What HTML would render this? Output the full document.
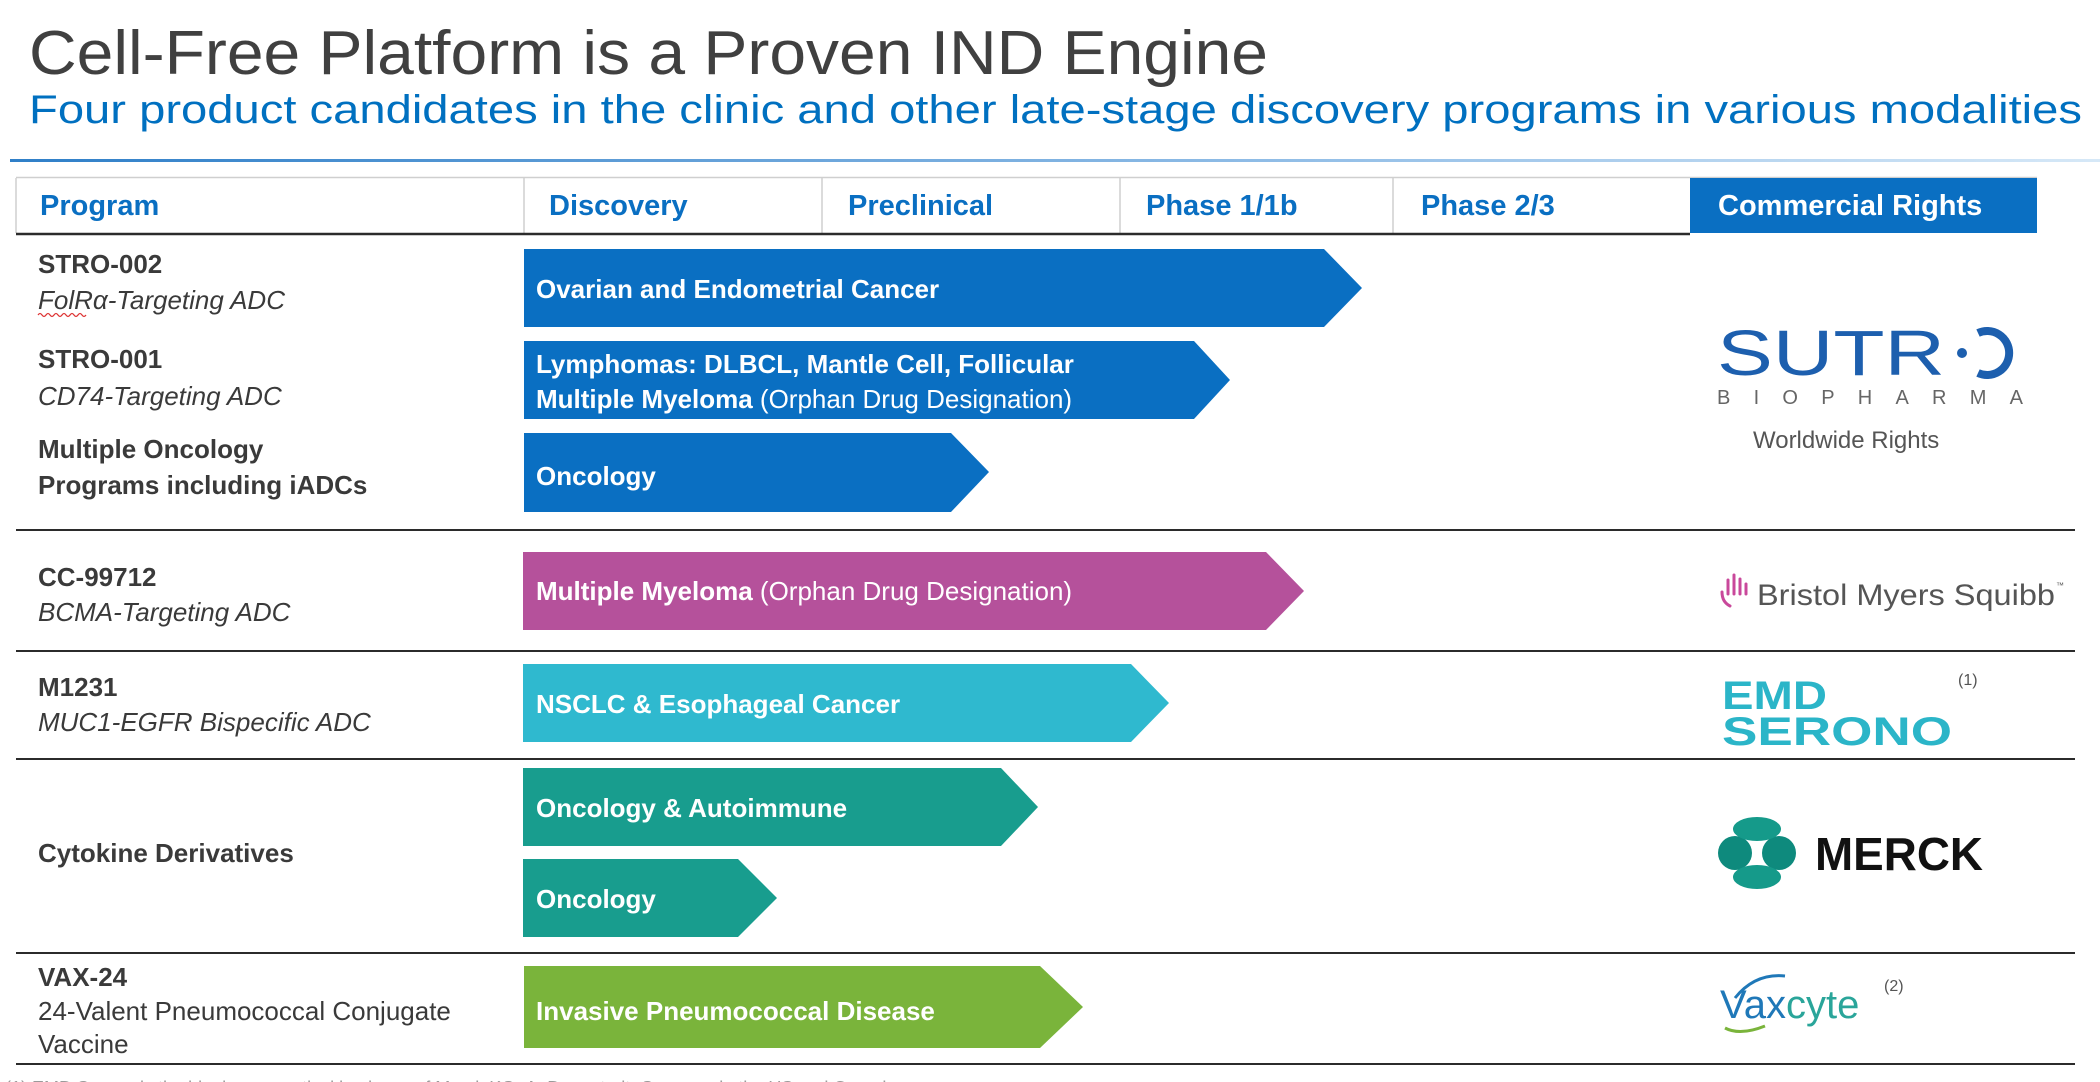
<!DOCTYPE html>
<html><head><meta charset="utf-8"><style>
html,body{margin:0;padding:0;background:#fff;}
svg{display:block;font-family:"Liberation Sans",Arial,sans-serif;}
</style></head><body>
<svg width="2100" height="1082" viewBox="0 0 2100 1082" xmlns="http://www.w3.org/2000/svg">
<defs>
<linearGradient id="bl" x1="0" x2="1" y1="0" y2="0">
<stop offset="0" stop-color="#2f7fc8"/><stop offset="0.6" stop-color="#8fbce6"/><stop offset="1" stop-color="#d6e8f7"/>
</linearGradient>
</defs>
<text x="29" y="74" font-size="62" fill="#404040" textLength="1239" lengthAdjust="spacingAndGlyphs">Cell-Free Platform is a Proven IND Engine</text>
<text x="29" y="123" font-size="40" fill="#0070c0" textLength="2053" lengthAdjust="spacingAndGlyphs">Four product candidates in the clinic and other late-stage discovery programs in various modalities</text>
<rect x="10" y="159" width="2090" height="3" fill="url(#bl)"/>

<!-- header -->
<line x1="16" y1="177.5" x2="2037" y2="177.5" stroke="#cfcfcf" stroke-width="1.5"/>
<rect x="1690" y="178" width="347" height="55" fill="#0a6fc2"/>
<line x1="16" y1="178" x2="16" y2="233" stroke="#cfcfcf" stroke-width="1.5"/>
<line x1="524" y1="178" x2="524" y2="233" stroke="#cfcfcf" stroke-width="1.5"/>
<line x1="822" y1="178" x2="822" y2="233" stroke="#cfcfcf" stroke-width="1.5"/>
<line x1="1120" y1="178" x2="1120" y2="233" stroke="#cfcfcf" stroke-width="1.5"/>
<line x1="1393" y1="178" x2="1393" y2="233" stroke="#cfcfcf" stroke-width="1.5"/>
<line x1="16" y1="234" x2="1690" y2="234" stroke="#2b2b2b" stroke-width="2.5"/>
<g font-size="29" font-weight="bold" fill="#0a6fc2">
<text x="40" y="215">Program</text>
<text x="549" y="215">Discovery</text>
<text x="848" y="215">Preclinical</text>
<text x="1146" y="215">Phase 1/1b</text>
<text x="1421" y="215">Phase 2/3</text>
<text x="1718" y="215" fill="#fff">Commercial Rights</text>
</g>

<!-- row separators -->
<g stroke="#2b2b2b" stroke-width="2">
<line x1="16" y1="530" x2="2075" y2="530"/>
<line x1="16" y1="651" x2="2075" y2="651"/>
<line x1="16" y1="759" x2="2075" y2="759"/>
<line x1="16" y1="953" x2="2075" y2="953"/>
<line x1="16" y1="1064" x2="2075" y2="1064"/>
</g>

<!-- left labels -->
<g font-size="26" fill="#3a3a3a">
<text x="38" y="273" font-weight="bold">STRO-002</text>
<text x="38" y="309" font-style="italic">FolRα-Targeting ADC</text>
<path d="M38 315 q2 -3 4 0 t4 0 t4 0 t4 0 t4 0 t4 0 t4 0 t4 0 t4 0 t4 0 t4 0 t4 0" stroke="#d33" stroke-width="1.2" fill="none"/>
<text x="38" y="368" font-weight="bold">STRO-001</text>
<text x="38" y="405" font-style="italic">CD74-Targeting ADC</text>
<text x="38" y="458" font-weight="bold">Multiple Oncology</text>
<text x="38" y="494" font-weight="bold">Programs including iADCs</text>
<text x="38" y="586" font-weight="bold">CC-99712</text>
<text x="38" y="621" font-style="italic">BCMA-Targeting ADC</text>
<text x="38" y="696" font-weight="bold">M1231</text>
<text x="38" y="731" font-style="italic">MUC1-EGFR Bispecific ADC</text>
<text x="38" y="862" font-weight="bold">Cytokine Derivatives</text>
<text x="38" y="986" font-weight="bold">VAX-24</text>
<text x="38" y="1020">24-Valent Pneumococcal Conjugate</text>
<text x="38" y="1053">Vaccine</text>
</g>

<!-- bars -->
<polygon points="524,249 1324,249 1362,288 1324,327 524,327" fill="#0a6fc2"/>
<polygon points="524,341 1194,341 1230,380 1194,419 524,419" fill="#0a6fc2"/>
<polygon points="524,433 951,433 989,472 951,512 524,512" fill="#0a6fc2"/>
<polygon points="523,552 1266,552 1304,591 1266,630 523,630" fill="#b5519b"/>
<polygon points="523,664 1131,664 1169,703 1131,742 523,742" fill="#2fb9cf"/>
<polygon points="523,768 1001,768 1038,807 1001,846 523,846" fill="#189d8e"/>
<polygon points="523,859 738,859 777,898 738,937 523,937" fill="#189d8e"/>
<polygon points="524,966 1040,966 1083,1007 1040,1048 524,1048" fill="#7ab43b"/>
<g font-size="26" fill="#fff" font-weight="bold">
<text x="536" y="298">Ovarian and Endometrial Cancer</text>
<text x="536" y="373">Lymphomas: DLBCL, Mantle Cell, Follicular</text>
<text x="536" y="408">Multiple Myeloma <tspan font-weight="normal">(Orphan Drug Designation)</tspan></text>
<text x="536" y="485">Oncology</text>
<text x="536" y="600">Multiple Myeloma <tspan font-weight="normal">(Orphan Drug Designation)</tspan></text>
<text x="536" y="713">NSCLC &amp; Esophageal Cancer</text>
<text x="536" y="817">Oncology &amp; Autoimmune</text>
<text x="536" y="908">Oncology</text>
<text x="536" y="1020">Invasive Pneumococcal Disease</text>
</g>

<!-- Sutro -->
<text x="1717" y="375" font-size="64" fill="#1d5fae" textLength="228" lengthAdjust="spacingAndGlyphs">SUTR</text>
<circle cx="1962" cy="353" r="5" fill="#1d5fae"/>
<path d="M1978 333 A22 22 0 1 1 1978 373" stroke="#1d5fae" stroke-width="8" fill="none"/>
<text x="1717" y="404" font-size="20" fill="#666" textLength="306" lengthAdjust="spacing">BIOPHARMA</text>
<text x="1753" y="448" font-size="24" fill="#555">Worldwide Rights</text>

<!-- BMS -->
<g stroke="#c9489b" stroke-width="3" fill="none" stroke-linecap="round">
<path d="M1722 592 q0 10 8 14"/>
<line x1="1728" y1="580" x2="1728" y2="594"/>
<line x1="1734" y1="575" x2="1734" y2="594"/>
<line x1="1740" y1="579" x2="1740" y2="594"/>
<line x1="1746" y1="584" x2="1746" y2="594"/>
</g>
<text x="1757" y="605" font-size="30" fill="#555" textLength="298" lengthAdjust="spacingAndGlyphs">Bristol Myers Squibb</text>
<text x="2056" y="588" font-size="8" fill="#555">™</text>

<!-- EMD Serono -->
<text x="1722" y="709" font-size="40" font-weight="bold" fill="#2bb5c8" textLength="105" lengthAdjust="spacingAndGlyphs">EMD</text>
<text x="1722" y="745" font-size="40" font-weight="bold" fill="#2bb5c8" textLength="230" lengthAdjust="spacingAndGlyphs">SERONO</text>
<text x="1958" y="685" font-size="16" fill="#555">(1)</text>

<!-- Merck -->
<circle cx="1735" cy="853" r="17" fill="#0e8a7d"/>
<circle cx="1779" cy="853" r="17" fill="#0e8a7d"/>
<ellipse cx="1757" cy="829" rx="24" ry="12" fill="#159a8a"/>
<ellipse cx="1757" cy="877" rx="24" ry="12" fill="#159a8a"/>
<text x="1815" y="870" font-size="46" font-weight="bold" fill="#111" textLength="168" lengthAdjust="spacingAndGlyphs">MERCK</text>

<!-- Vaxcyte -->
<text x="1720" y="1018" font-size="40" fill="#1f78b8">Vax<tspan fill="#2aa59a">cyte</tspan></text>
<path d="M1735 998 q20 -25 50 -22" stroke="#1f78b8" stroke-width="3" fill="none"/>
<path d="M1725 1028 q15 8 40 -2" stroke="#7ab43b" stroke-width="3" fill="none"/>
<text x="1884" y="991" font-size="16" fill="#555">(2)</text>

<!-- footnote (cut off) -->
<text x="5" y="1094" font-size="18" fill="#9a9a9a">(1) EMD Serono is the biopharmaceutical business of Merck KGaA, Darmstadt, Germany in the US and Canada</text>
</svg>
</body></html>
